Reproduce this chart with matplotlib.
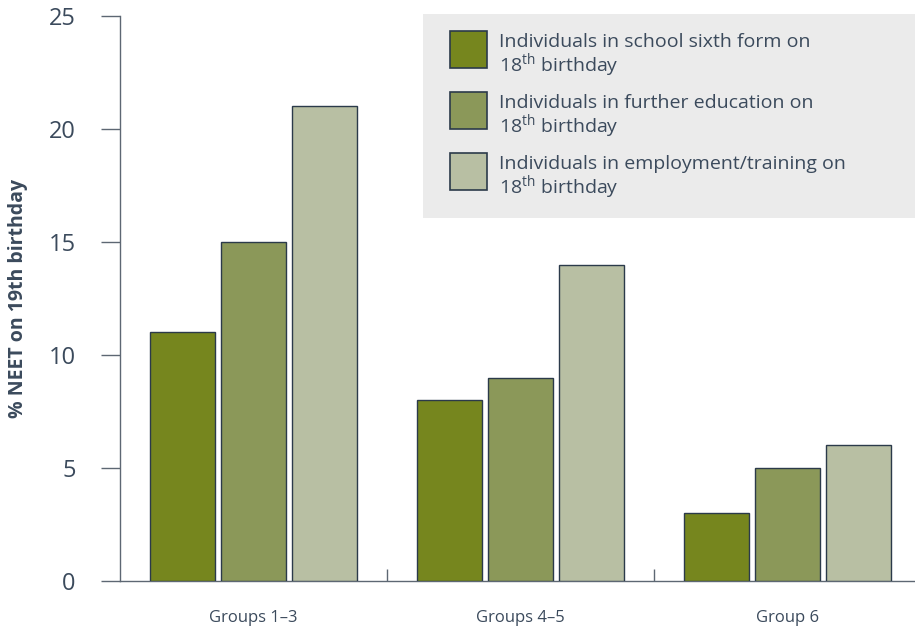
import numpy as np
import matplotlib
matplotlib.use('Agg')
import matplotlib.pyplot as plt
from matplotlib.patches import Rectangle
from matplotlib.ticker import FixedLocator

plt.rcParams['font.family'] = ['Open Sans', 'DejaVu Sans']
plt.rcParams['mathtext.fontset'] = 'custom'
plt.rcParams['mathtext.rm'] = 'Open Sans'

groups = ['Groups 1\u20133', 'Groups 4\u20135', 'Group 6']
sixth_form = [11, 8, 3]
further_ed = [15, 9, 5]
employment = [21, 14, 6]
series_labels = ['Individuals in school sixth form on',
                 'Individuals in further education on',
                 'Individuals in employment/training on']
colors = ['#76861e', '#8b9859', '#b8bfa3']

txt = '#3b4a5c'
axc = '#5d6773'
W, H = 915, 626

fig = plt.figure(figsize=(W/100, H/100), dpi=100)
ax = fig.add_axes([120/W, 45/H, 795/W, 565/H])

x = np.arange(len(groups))
w = 0.24
step = 0.266
for i, (vals, c) in enumerate(zip([sixth_form, further_ed, employment], colors)):
    ax.bar(x + (i - 1)*step, vals, w, color=c, edgecolor='#2b3a4a', linewidth=1, zorder=3)

ax.set_xlim(-0.5, -0.5 + 795/267)
ax.set_ylim(0, 25)
ax.set_yticks([0, 5, 10, 15, 20, 25])
ax.set_xticks(x)
ax.set_xticklabels(groups, fontsize=12, color=txt)
ax.xaxis.set_minor_locator(FixedLocator([0.5, 1.5]))
ax.tick_params(axis='x', which='major', length=0, pad=21)
ax.tick_params(axis='x', which='minor', direction='in', length=9, width=1, color=axc)
ax.tick_params(axis='y', length=14, width=1, color=axc, pad=18, labelsize=17, labelcolor=txt)

for s in ['top', 'right']:
    ax.spines[s].set_visible(False)
for s in ['left', 'bottom']:
    ax.spines[s].set_color(axc)
    ax.spines[s].set_linewidth(1)

ax.set_ylabel('% NEET on 19th birthday', fontsize=14, fontweight='bold', color=txt)
ax.yaxis.set_label_coords((28 - 120)/795, 0.5)

# legend box drawn by hand (pixel layout)
fig.patches.append(Rectangle((423/W, 1 - 218/H), 492/W, 204/H, transform=fig.transFigure,
                             facecolor='#ebebeb', edgecolor='none', zorder=5))
for i, (lab, c) in enumerate(zip(series_labels, colors)):
    top = 31 + 61*i
    fig.patches.append(Rectangle((450/W, 1 - (top + 37)/H), 37/W, 37/H, transform=fig.transFigure,
                                 facecolor=c, edgecolor='#2b3a4a', linewidth=1.2, zorder=6))
    fig.text(499/W, 1 - (top + 11)/H, lab, fontsize=14, color=txt, va='center', zorder=7)
    fig.text(499/W, 1 - (top + 34)/H, r'18$^{\mathrm{th}}$ birthday', fontsize=14, color=txt,
             va='center', zorder=7)

fig.savefig('out.png', dpi=100)
